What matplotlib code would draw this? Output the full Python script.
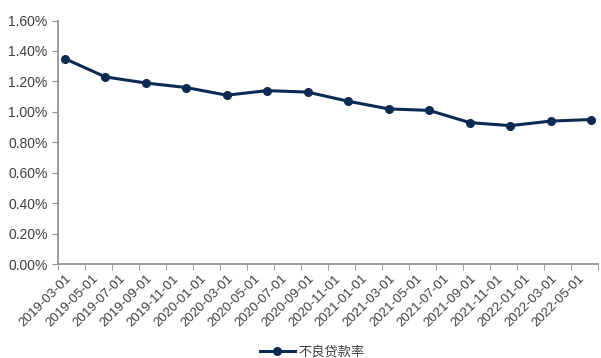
"""Non-performing loan ratio, quarterly."""

import matplotlib.pyplot as plt
import numpy as np
from matplotlib.ticker import FixedLocator, PercentFormatter

plt.rcParams["font.family"] = ["Liberation Sans", "Noto Sans CJK SC", "DejaVu Sans"]

# quarter-end observations, counted in months from 2019-03
months = [0, 3, 6, 9, 12, 15, 18, 21, 24, 27, 30, 33, 36, 39]
npl_ratio = [1.35, 1.23, 1.19, 1.16, 1.11, 1.14, 1.13, 1.07, 1.02, 1.01,
             0.93, 0.91, 0.94, 0.95]
tick_labels = [
    "2019-03-01", "2019-05-01", "2019-07-01", "2019-09-01", "2019-11-01",
    "2020-01-01", "2020-03-01", "2020-05-01", "2020-07-01", "2020-09-01",
    "2020-11-01", "2021-01-01", "2021-03-01", "2021-05-01", "2021-07-01",
    "2021-09-01", "2021-11-01", "2022-01-01", "2022-03-01", "2022-05-01",
]
series_name = "不良贷款率"

navy = "#0c2a52"
grey_text = "#404040"
grey_axis = "#8c8c8c"

fig = plt.figure(figsize=(6.01, 3.58), dpi=100)
ax = fig.add_axes([58 / 601, 0.2617, 540 / 601, 0.681])

ax.plot(months, npl_ratio, color=navy, lw=2.2, marker="o", ms=5.5,
        label=series_name)

n_months = 40
ax.set_xlim(-0.5, n_months - 0.5)
ax.set_ylim(0, 1.6)
ax.set_yticks(np.arange(0, 1.61, 0.2))
ax.yaxis.set_major_formatter(PercentFormatter(decimals=2))

# labels sit at month centres, tick marks on the month boundaries
label_pos = np.arange(0, n_months, 2)
ax.set_xticks(label_pos)
ax.set_xticklabels(tick_labels, rotation=45, ha="right", rotation_mode="anchor")
ax.xaxis.set_minor_locator(FixedLocator(np.arange(-0.5, n_months, 2)))
ax.tick_params(axis="x", which="major", length=0, pad=6, labelsize=9.5)
ax.tick_params(axis="x", which="minor", length=4, color=grey_axis)
ax.tick_params(axis="y", length=4, color=grey_axis, labelsize=10)
ax.tick_params(labelcolor=grey_text)

for side in ("top", "right"):
    ax.spines[side].set_visible(False)
for side in ("left", "bottom"):
    ax.spines[side].set_color(grey_axis)
    ax.spines[side].set_linewidth(1.2)

fig.legend(loc="lower center", bbox_to_anchor=(0.52, -0.035), frameon=False,
           fontsize=9.5, labelcolor=grey_text, handlelength=2.6,
           handletextpad=0.3)

fig.savefig("out.png", dpi=100)
